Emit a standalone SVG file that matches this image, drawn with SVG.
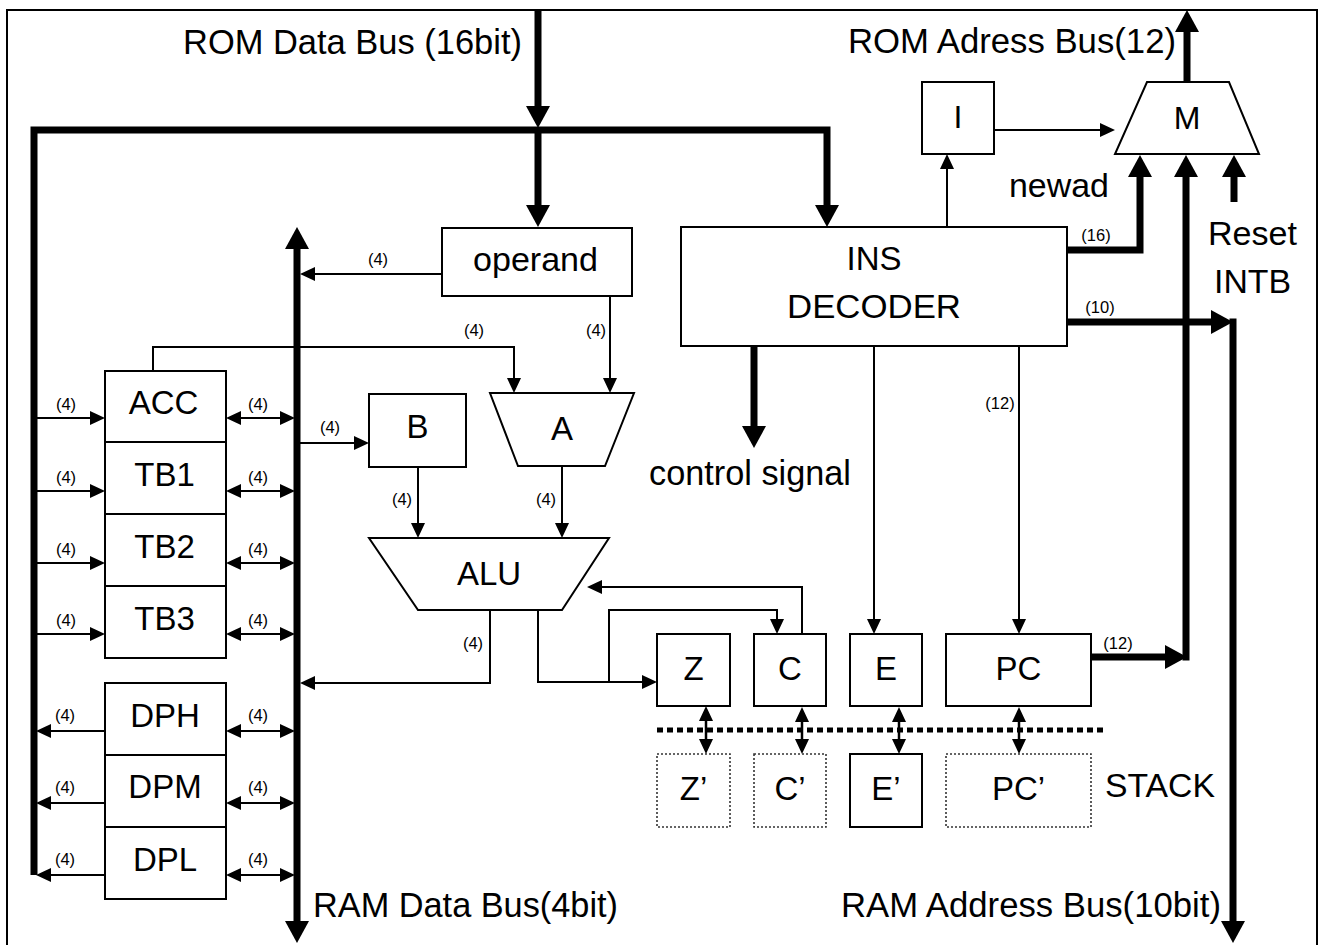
<svg xmlns="http://www.w3.org/2000/svg" width="1322" height="945" viewBox="0 0 1322 945">
<defs>
<style>
text{font-family:"Liberation Sans",Arial,sans-serif;fill:#000}
.big{font-size:35px}
.mid{font-size:34px}
.lbl{font-size:33px;text-anchor:middle}
.sm{font-size:16.5px;text-anchor:middle}
.box{fill:#fff;stroke:#000;stroke-width:2}
.dot{fill:#fff;stroke:#333;stroke-width:1.6;stroke-dasharray:2 2}
.thick{fill:none;stroke:#000;stroke-width:7;stroke-linejoin:miter}
.thinA{fill:none;stroke:#000;stroke-width:2;marker-end:url(#ah)}
.thinD{fill:none;stroke:#000;stroke-width:2;marker-start:url(#ah);marker-end:url(#ah)}
.stk{fill:none;stroke:#000;stroke-width:2.5;marker-start:url(#ah2);marker-end:url(#ah2)}
.thickA{fill:none;stroke:#000;stroke-width:7;stroke-linejoin:miter;marker-end:url(#AH)}
</style>
<marker id="ah" markerUnits="userSpaceOnUse" viewBox="0 -8 16 16" markerWidth="16" markerHeight="16" refX="0" refY="0" orient="auto-start-reverse"><path d="M0,-7 L15,0 L0,7 z" fill="#000"/></marker>
<marker id="ah2" markerUnits="userSpaceOnUse" viewBox="0 -8 16 16" markerWidth="16" markerHeight="16" refX="0" refY="0" orient="auto-start-reverse"><path d="M0,-7 L15,0 L0,7 z" fill="#000"/></marker>
<marker id="AH" markerUnits="userSpaceOnUse" viewBox="0 -13 24 26" markerWidth="24" markerHeight="26" refX="0" refY="0" orient="auto-start-reverse"><path d="M0,-12 L22,0 L0,12 z" fill="#000"/></marker>
</defs>
<rect x="0" y="0" width="1322" height="945" fill="#fff"/>
<rect id="frame" x="7" y="10" width="1310" height="950" fill="none" stroke="#000" stroke-width="2"/>

<g id="connectors">
  <path class="thickA" d="M538,10 V106"/>
  <path class="thickA" d="M34,875 V130 H827 V205"/>
  <path class="thickA" d="M538,130 V205"/>
  <path class="thick" d="M297,249 V921" marker-start="url(#AH)" marker-end="url(#AH)"/>
  <path class="thickA" d="M1187,82 V32"/>
  <path class="thickA" d="M1067,250 H1140 V177"/>
  <path class="thickA" d="M1090,657 H1165"/>
  <path class="thickA" d="M1186,660.5 V177"/>
  <path class="thickA" d="M1234,202 V177"/>
  <path class="thickA" d="M1067,322 H1211"/>
  <path class="thickA" d="M1233,318.5 V921"/>
  <path class="thickA" d="M754,346 V426"/>

  <path class="thinA" d="M442,274 H315"/>
  <path class="thinA" d="M610,296 V378"/>
  <path class="thinA" d="M153,371 V347 H514 V378"/>
  <path class="thinA" d="M300,443 H354"/>
  <path class="thinA" d="M418,467 V523"/>
  <path class="thinA" d="M562,466 V523"/>
  <path class="thinA" d="M37,418 H90"/>
  <path class="thinA" d="M37,491 H90"/>
  <path class="thinA" d="M37,563 H90"/>
  <path class="thinA" d="M37,634 H90"/>
  <path class="thinD" d="M241,418 H280"/>
  <path class="thinD" d="M241,491 H280"/>
  <path class="thinD" d="M241,563 H280"/>
  <path class="thinD" d="M241,634 H280"/>
  <path class="thinD" d="M241,731 H280"/>
  <path class="thinD" d="M241,803 H280"/>
  <path class="thinD" d="M241,875 H280"/>
  <path class="thinA" d="M105,731 H51"/>
  <path class="thinA" d="M105,803 H51"/>
  <path class="thinA" d="M105,875 H51"/>
  <path class="thinA" d="M490,610 V683 H315"/>
  <path class="thinA" d="M538,610 V682 H642"/>
  <path class="thinA" d="M609,682 V610 H777 V619"/>
  <path class="thinA" d="M802,634 V587 H602"/>
  <path class="thinA" d="M947,227 V169"/>
  <path class="thinA" d="M994,130 H1100"/>
  <path class="thinA" d="M874,346 V619"/>
  <path class="thinA" d="M1019,346 V619"/>

  <path d="M657,730 H1105" fill="none" stroke="#000" stroke-width="5" stroke-dasharray="6 4"/>
  <path class="stk" d="M706,721 V739"/>
  <path class="stk" d="M802,722 V739"/>
  <path class="stk" d="M899,722 V739"/>
  <path class="stk" d="M1019,722 V739"/>

  <text class="sm" x="378" y="265">(4)</text>
  <text class="sm" x="474" y="336">(4)</text>
  <text class="sm" x="596" y="336">(4)</text>
  <text class="sm" x="66" y="410">(4)</text>
  <text class="sm" x="66" y="483">(4)</text>
  <text class="sm" x="66" y="555">(4)</text>
  <text class="sm" x="66" y="626">(4)</text>
  <text class="sm" x="258" y="410">(4)</text>
  <text class="sm" x="258" y="483">(4)</text>
  <text class="sm" x="258" y="555">(4)</text>
  <text class="sm" x="258" y="626">(4)</text>
  <text class="sm" x="65" y="721">(4)</text>
  <text class="sm" x="65" y="793">(4)</text>
  <text class="sm" x="65" y="865">(4)</text>
  <text class="sm" x="258" y="721">(4)</text>
  <text class="sm" x="258" y="793">(4)</text>
  <text class="sm" x="258" y="865">(4)</text>
  <text class="sm" x="330" y="433">(4)</text>
  <text class="sm" x="402" y="505">(4)</text>
  <text class="sm" x="546" y="505">(4)</text>
  <text class="sm" x="473" y="649">(4)</text>
  <text class="sm" x="1096" y="241">(16)</text>
  <text class="sm" x="1100" y="313">(10)</text>
  <text class="sm" x="1000" y="409">(12)</text>
  <text class="sm" x="1118" y="649">(12)</text>
</g>

<g id="bus-labels">
  <text class="big" x="183" y="54" textLength="339" lengthAdjust="spacingAndGlyphs">ROM Data Bus (16bit)</text>
  <text class="big" x="848" y="53" textLength="328" lengthAdjust="spacingAndGlyphs">ROM Adress Bus(12)</text>
  <text class="mid" x="1009" y="197" textLength="100" lengthAdjust="spacingAndGlyphs">newad</text>
  <text class="mid" x="1208" y="245" textLength="89" lengthAdjust="spacingAndGlyphs">Reset</text>
  <text class="mid" x="1214" y="293" textLength="77" lengthAdjust="spacingAndGlyphs">INTB</text>
  <text class="big" x="649" y="485" textLength="202" lengthAdjust="spacingAndGlyphs">control signal</text>
  <text class="mid" x="1105" y="797" textLength="110" lengthAdjust="spacingAndGlyphs">STACK</text>
  <text class="big" x="313" y="917" textLength="305" lengthAdjust="spacingAndGlyphs">RAM Data Bus(4bit)</text>
  <text class="big" x="841" y="917" textLength="380" lengthAdjust="spacingAndGlyphs">RAM Address Bus(10bit)</text>
</g>

<g id="operand"><rect class="box" x="442" y="228" width="190" height="68"/><text class="mid" x="473" y="271" textLength="125" lengthAdjust="spacingAndGlyphs">operand</text></g>
<g id="ins-decoder"><rect class="box" x="681" y="227" width="386" height="119"/><text class="lbl" x="874" y="270">INS</text><text class="lbl" x="874" y="318" textLength="174" lengthAdjust="spacingAndGlyphs">DECODER</text></g>
<g id="I"><rect class="box" x="922" y="82" width="72" height="72"/><text class="lbl" x="958" y="128" style="font-size:32px">I</text></g>
<g id="M"><polygon class="box" points="1147,82 1229,82 1259,154 1115,154"/><text class="lbl" x="1187" y="129" style="font-size:32px">M</text></g>
<g id="ACC"><rect class="box" x="105" y="371" width="121" height="71"/><text class="lbl" x="163.5" y="414">ACC</text></g>
<g id="TB1"><rect class="box" x="105" y="442" width="121" height="72"/><text class="lbl" x="164.5" y="486">TB1</text></g>
<g id="TB2"><rect class="box" x="105" y="514" width="121" height="72"/><text class="lbl" x="164.5" y="558">TB2</text></g>
<g id="TB3"><rect class="box" x="105" y="586" width="121" height="72"/><text class="lbl" x="164.5" y="630">TB3</text></g>
<g id="DPH"><rect class="box" x="105" y="683" width="121" height="72"/><text class="lbl" x="165" y="727">DPH</text></g>
<g id="DPM"><rect class="box" x="105" y="755" width="121" height="72"/><text class="lbl" x="165" y="798">DPM</text></g>
<g id="DPL"><rect class="box" x="105" y="827" width="121" height="72"/><text class="lbl" x="165" y="871">DPL</text></g>
<g id="B"><rect class="box" x="369" y="394" width="97" height="73"/><text class="lbl" x="417.5" y="438">B</text></g>
<g id="A"><polygon class="box" points="490,393 634,393 605,466 518,466"/><text class="lbl" x="562" y="440">A</text></g>
<g id="ALU"><polygon class="box" points="369,538 609,538 562,610 418,610"/><text class="lbl" x="489" y="585">ALU</text></g>
<g id="Z"><rect class="box" x="657" y="634" width="73" height="72"/><text class="lbl" x="693.5" y="680">Z</text></g>
<g id="C"><rect class="box" x="754" y="634" width="72" height="72"/><text class="lbl" x="790" y="680">C</text></g>
<g id="E"><rect class="box" x="850" y="634" width="72" height="72"/><text class="lbl" x="886" y="680">E</text></g>
<g id="PC"><rect class="box" x="946" y="634" width="145" height="72"/><text class="lbl" x="1018.5" y="680">PC</text></g>
<g id="Z-stack"><rect class="dot" x="657" y="754" width="73" height="73"/><text class="lbl" x="693.5" y="800">Z’</text></g>
<g id="C-stack"><rect class="dot" x="754" y="754" width="72" height="73"/><text class="lbl" x="790" y="800">C’</text></g>
<g id="E-stack"><rect class="box" x="850" y="754" width="72" height="73"/><text class="lbl" x="886" y="800">E’</text></g>
<g id="PC-stack"><rect class="dot" x="946" y="754" width="145" height="73"/><text class="lbl" x="1018.5" y="800">PC’</text></g>
</svg>
